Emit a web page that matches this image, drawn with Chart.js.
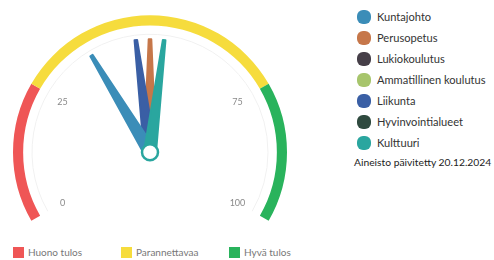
<!DOCTYPE html>
<html>
<head>
<meta charset="utf-8">
<script src="https://cdn.jsdelivr.net/npm/chart.js@4/dist/chart.umd.min.js"></script>
<style>
  body { margin: 0; background: #fff; font-family: Lato, "Open Sans", sans-serif; }
  #wrap { position: relative; width: 494px; height: 260px; overflow: hidden; }
  #gauge { position: absolute; left: 0; top: 0; }
  .side { position: absolute; left: 357px; top: 6px; }
  .side .row { height: 21px; display: flex; align-items: center; font-size: 11.1px; color: #333; white-space: nowrap; }
  .side .dot { width: 14px; height: 14px; border-radius: 6px; margin-right: 6px; }
  .note { position: absolute; left: 354px; top: 156px; font-size: 10.3px; color: #222; white-space: nowrap; }
  .bottom { position: absolute; left: 13px; top: 246px; display: flex; }
  .bottom .item { width: 108px; display: flex; align-items: center; font-size: 10px; color: #777; white-space: nowrap; }
  .bottom .box { width: 11px; height: 11px; margin-right: 4px; }
</style>
</head>
<body>
<div id="wrap">
  <canvas id="gauge" width="300" height="236"></canvas>
  <div class="side" id="sideLegend"></div>
  <div class="note">Aineisto päivitetty 20.12.2024</div>
  <div class="bottom" id="bandLegend"></div>
</div>
<script>
// gauge bands
const bandNames = ['Huono tulos', 'Parannettavaa', 'Hyvä tulos'];
const bandSizes = [25, 50, 25];
const bandColors = ['#ef5656', '#f6dc3d', '#29b35c'];
const tickValues = [0, 25, 75, 100];

// needles (null = no result shown)
const needleNames = ['Kuntajohto', 'Perusopetus', 'Lukiokoulutus', 'Ammatillinen koulutus', 'Liikunta', 'Hyvinvointialueet', 'Kulttuuri'];
const needleValues = [37, 50, null, null, 47, null, 53];
const needleColors = ['#3b8db8', '#c6774a', '#463f48', '#a7c56c', '#3a5fa5', '#2f4a3f', '#2aa69f'];
const drawOrder = [1, 4, 0, 6];

// right legend
let side = document.getElementById('sideLegend');
needleNames.forEach(function(name, i) {
    let row = document.createElement('div');
    row.className = 'row';
    row.innerHTML = '<span class="dot" style="background:' + needleColors[i] + '"></span>' + name;
    side.appendChild(row);
});

// bottom legend
let bl = document.getElementById('bandLegend');
bandNames.forEach(function(name, i) {
    let it = document.createElement('div');
    it.className = 'item';
    it.innerHTML = '<span class="box" style="background:' + bandColors[i] + '"></span>' + name;
    bl.appendChild(it);
});

const needlePlugin = {
    id: 'needles',
    afterDatasetsDraw: function(chart) {
        let arcs = chart.getDatasetMeta(0).data;
        let cx = arcs[0].x, cy = arcs[0].y, outer = arcs[0].outerRadius;
        let a0 = arcs[0].startAngle, a1 = arcs[arcs.length - 1].endAngle;
        let total = bandSizes.reduce((s, v) => s + v, 0);
        let ang = v => a0 + (a1 - a0) * v / total;
        let ctx = chart.ctx;
        ctx.save();

        // faint inner ring
        ctx.beginPath();
        ctx.arc(cx, cy, outer - 19, a0, a1);
        ctx.strokeStyle = '#f1f1f1';
        ctx.lineWidth = 1;
        ctx.stroke();

        // tick labels
        ctx.font = '9px Lato, sans-serif';
        ctx.fillStyle = '#8a8a8a';
        ctx.textAlign = 'center';
        ctx.textBaseline = 'middle';
        tickValues.forEach(function(t) {
            let a = ang(t);
            ctx.fillText(String(t), cx + Math.cos(a) * 101, cy + Math.sin(a) * 101);
        });

        // needles
        let len = outer - 24;
        drawOrder.forEach(function(i) {
            let v = needleValues[i];
            if (v === null) return;
            let a = ang(v);
            let ux = Math.cos(a), uy = Math.sin(a);
            let px = -uy, py = ux;
            ctx.beginPath();
            ctx.moveTo(cx + px * 6, cy + py * 6);
            ctx.lineTo(cx + ux * len + px * 1.3, cy + uy * len + py * 1.3);
            ctx.lineTo(cx + ux * len - px * 1.3, cy + uy * len - py * 1.3);
            ctx.lineTo(cx - px * 6, cy - py * 6);
            ctx.closePath();
            ctx.fillStyle = needleColors[i];
            ctx.strokeStyle = needleColors[i];
            ctx.lineWidth = 2;
            ctx.lineJoin = 'round';
            ctx.fill();
            ctx.stroke();
        });

        // hub
        ctx.beginPath();
        ctx.arc(cx, cy, 8, 0, Math.PI * 2);
        ctx.fillStyle = '#fff';
        ctx.fill();
        ctx.strokeStyle = '#2aa69f';
        ctx.lineWidth = 2.5;
        ctx.stroke();
        ctx.restore();
    }
};

let gauge = new Chart(document.getElementById('gauge'), {
    type: 'doughnut',
    data: {
        labels: bandNames,
        datasets: [{
            data: bandSizes,
            backgroundColor: bandColors,
            borderWidth: 0,
            radius: 137,
            cutout: '92.6%',
            rotation: -120,
            circumference: 240
        }]
    },
    options: {
        responsive: false,
        animation: false,
        events: [],
        plugins: { legend: { display: false }, tooltip: { enabled: false } }
    },
    plugins: [needlePlugin]
});
</script>
</body>
</html>
